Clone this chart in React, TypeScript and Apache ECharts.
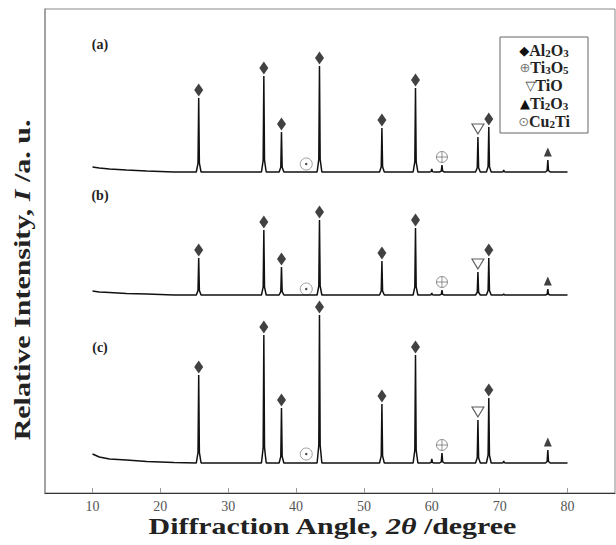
import React, { useEffect, useRef } from "react";
import * as echarts from "echarts";

// x-axis tick labels (2θ, degree)
const tickValues = [10, 20, 30, 40, 50, 60, 70, 80];

// Peak positions (2θ) and the phase each belongs to
const peakPos = [25.65, 35.25, 37.85, 43.45, 52.65, 57.6, 60.0, 61.5, 66.8, 68.4, 70.6, 77.1];
const peakPhase = ["Al2O3", "Al2O3", "Al2O3", "Al2O3", "Al2O3", "Al2O3", "", "Ti3O5", "TiO", "Al2O3", "", "Ti2O3"];

// Peak heights above baseline (a.u.) for the three patterns
const heightsA = [74, 96, 40, 106, 44, 84, 3, 7, 35, 45, 2, 12];
const heightsB = [37, 65, 28, 75, 34, 67, 2, 5, 23, 37, 1, 6];
const heightsC = [88, 128, 55, 148, 59, 108, 4, 10, 43, 65, 2, 13];

// Baseline levels (stack offsets) of patterns (a), (b), (c)
const baseA = 321;
const baseB = 198;
const baseC = 30;

// Background drift at low angles
const driftX = [10, 11, 12.5, 15, 18, 22, 80];
const driftA = [5, 4, 3, 2, 1, 0, 0];
const driftB = [4, 3, 2.5, 1.5, 1, 0, 0];
const driftC = [9, 6, 4, 3, 1.5, 0.5, 0];

// Cu2Ti marker (no resolved peak)
const cu2TiPos = 41.5;
const cu2TiGap = [8, 6, 9];

// Legend rows: glyph, glyph colour, formula parts [text, subscript]
const legendGlyphs = ["◆", "⊕", "▽", "▲", "⊙"];
const legendGlyphColors = ["#111", "#777", "#333", "#111", "#777"];
const legendFormulas: string[][][] = [
  [["Al", "2"], ["O", "3"]],
  [["Ti", "3"], ["O", "5"]],
  [["TiO", ""]],
  [["Ti", "2"], ["O", "3"]],
  [["Cu", "2"], ["Ti", ""]],
];

const MARK_GAP = 8;
const SERIF = "'Liberation Serif', 'DejaVu Serif', serif";

function trace(base: number, heights: number[], drift: number[]) {
  const pts: number[][] = driftX.map((x, i) => [x, base + drift[i]]);
  peakPos.forEach((p, i) => {
    const h = heights[i];
    pts.push([p - 0.35, base], [p - 0.1, base + h * 0.12], [p, base + h], [p + 0.1, base + h * 0.12], [p + 0.35, base]);
  });
  pts.sort((a, b) => a[0] - b[0]);
  return pts;
}

function markers(phase: string) {
  const out: number[][] = [];
  const sets: [number, number[]][] = [
    [baseA, heightsA],
    [baseB, heightsB],
    [baseC, heightsC],
  ];
  sets.forEach(([base, hs]) => {
    peakPos.forEach((p, i) => {
      if (peakPhase[i] === phase) out.push([p, base + hs[i] + MARK_GAP]);
    });
  });
  return out;
}

const cu2TiPts = [baseA, baseB, baseC].map((b, i) => [cu2TiPos, b + cu2TiGap[i]]);

export default function App() {
  const ref = useRef<HTMLDivElement>(null);
  useEffect(() => {
    if (!ref.current) return;
    const chart = echarts.init(ref.current, undefined, { renderer: "svg" });
    const lineStyle = { color: "#111", width: 1.5 };
    chart.setOption({
      animation: false,
      backgroundColor: "#fff",
      grid: {
        left: 45,
        top: 9,
        width: 570,
        height: 484,
        show: true,
        borderColor: "#888",
        borderWidth: 1,
      },
      xAxis: {
        type: "value",
        min: 3,
        max: 87,
        axisLine: { show: true, lineStyle: { color: "#333", width: 1 } },
        axisTick: { show: true, inside: true, length: 5, customValues: tickValues, lineStyle: { color: "#999" } },
        axisLabel: { customValues: tickValues, color: "#555", fontSize: 14, fontFamily: SERIF, margin: 6 },
        splitLine: { show: false },
      },
      yAxis: {
        type: "value",
        min: 0,
        max: 484,
        axisLine: { show: true, lineStyle: { color: "#999", width: 1.5 } },
        axisTick: { show: false },
        axisLabel: { show: false },
        splitLine: { show: false },
      },
      series: [
        { type: "line", data: trace(baseA, heightsA, driftA), symbol: "none", lineStyle, silent: true },
        { type: "line", data: trace(baseB, heightsB, driftB), symbol: "none", lineStyle, silent: true },
        { type: "line", data: trace(baseC, heightsC, driftC), symbol: "none", lineStyle, silent: true },
        {
          type: "scatter",
          data: markers("Al2O3"),
          symbol: "diamond",
          symbolSize: [9, 13],
          itemStyle: { color: "#111" },
          silent: true,
        },
        {
          type: "scatter",
          data: markers("TiO"),
          symbol: "triangle",
          symbolRotate: 180,
          symbolSize: [12, 10],
          itemStyle: { color: "#fff", borderColor: "#333", borderWidth: 1.1 },
          silent: true,
        },
        {
          type: "scatter",
          data: markers("Ti2O3"),
          symbol: "triangle",
          symbolSize: [8, 9],
          itemStyle: { color: "#111" },
          silent: true,
        },
        {
          type: "scatter",
          data: markers("Ti3O5"),
          symbol: "path://M10,5A5,5,0,1,1,0,5A5,5,0,1,1,10,5ZM0,5L10,5M5,0L5,10",
          symbolSize: [11, 11],
          itemStyle: { color: "rgba(0,0,0,0)", borderColor: "#777", borderWidth: 1 },
          silent: true,
        },
        {
          type: "scatter",
          data: cu2TiPts,
          symbol: "circle",
          symbolSize: 12,
          itemStyle: { color: "#fff", borderColor: "#888", borderWidth: 1 },
          silent: true,
        },
        {
          type: "scatter",
          data: cu2TiPts,
          symbol: "circle",
          symbolSize: 2.5,
          itemStyle: { color: "#222" },
          silent: true,
        },
      ],
      graphic: [
        {
          type: "text",
          x: 22,
          y: 280,
          rotation: Math.PI / 2,
          scaleX: 1.25,
          style: {
            text: "{n|Relative Intensity, }{i|I}{n| /a. u.}",
            align: "center",
            verticalAlign: "middle",
            rich: {
              n: { fontFamily: SERIF, fontSize: 24, fontWeight: "bold", fill: "#222" },
              i: { fontFamily: SERIF, fontSize: 24, fontWeight: "bold", fontStyle: "italic", fill: "#222" },
            },
          },
        },
        {
          type: "text",
          x: 332,
          y: 526,
          scaleX: 1.3,
          style: {
            text: "{n|Diffraction Angle, }{i|2θ}{n| /degree}",
            align: "center",
            verticalAlign: "middle",
            rich: {
              n: { fontFamily: SERIF, fontSize: 23, fontWeight: "bold", fill: "#222" },
              i: { fontFamily: SERIF, fontSize: 23, fontWeight: "bold", fontStyle: "italic", fill: "#222" },
            },
          },
        },
        ...["(a)", "(b)", "(c)"].map((t, i) => ({
          type: "text",
          x: 100,
          y: [44, 195, 347][i],
          style: {
            text: t,
            align: "center",
            verticalAlign: "middle",
            fontFamily: SERIF,
            fontSize: 14,
            fontWeight: "bold",
            fill: "#222",
          },
        })),
        {
          type: "rect",
          shape: { x: 500, y: 37, width: 88, height: 96 },
          style: { fill: "#fff", stroke: "#666", lineWidth: 1 },
        },
        ...legendGlyphs.map((g, i) => {
          const parts = legendFormulas[i]
            .map(([t, s]) => `{t|${t}}` + (s ? `{s|${s}}` : ""))
            .join("");
          return {
            type: "text",
            x: 544,
            y: 50 + i * 17.8,
            style: {
              text: `{g|${g}}${parts}`,
              align: "center",
              verticalAlign: "middle",
              rich: {
                g: { fontFamily: "'DejaVu Sans', sans-serif", fontSize: 13, fill: legendGlyphColors[i], lineHeight: 16, verticalAlign: "middle" },
                t: { fontFamily: SERIF, fontSize: 16, fontWeight: "bold", fill: "#222", lineHeight: 16, verticalAlign: "middle" },
                s: { fontFamily: SERIF, fontSize: 11, fontWeight: "bold", fill: "#222", lineHeight: 11, verticalAlign: "bottom", padding: [0, 0, 0, 0] },
              },
            },
          };
        }),
      ],
    });
    return () => chart.dispose();
  }, []);
  return <div ref={ref} style={{ width: 616, height: 545, position: "absolute", left: 0, top: 0 }} />;
}
